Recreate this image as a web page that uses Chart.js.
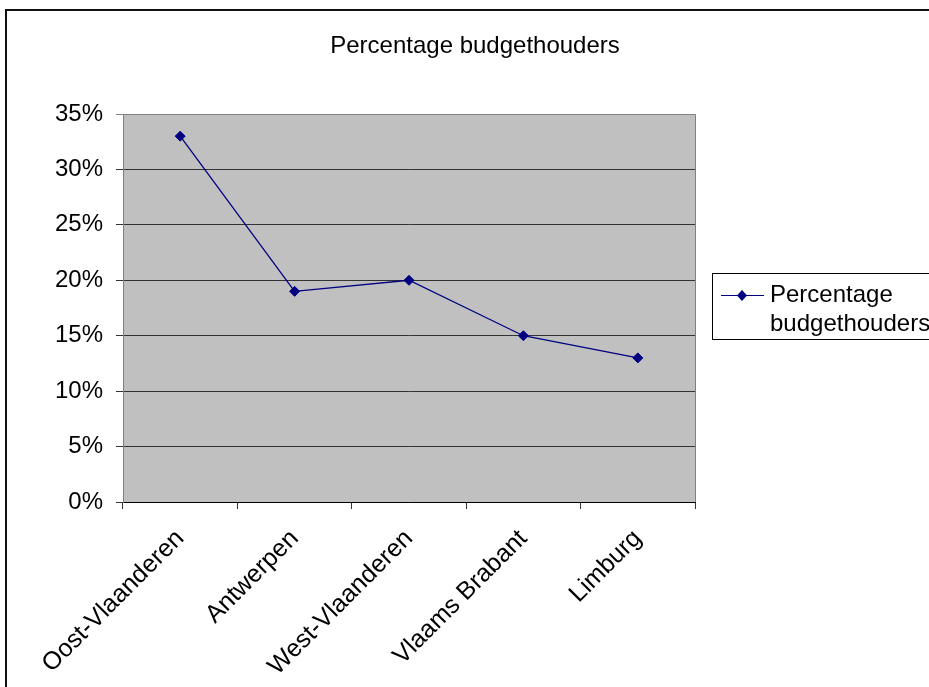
<!DOCTYPE html>
<html>
<head>
<meta charset="utf-8">
<script src="https://cdn.jsdelivr.net/npm/chart.js@4.4.0/dist/chart.umd.min.js"></script>
<style>
  body { margin: 0; overflow: hidden; background: #fff; }
  #wrap { position: relative; width: 929px; height: 687px; }
  #frame { position: absolute; left: 5px; top: 9px; width: 1000px; height: 1000px;
           border-left: 2px solid #111; border-top: 2px solid #111; }
</style>
</head>
<body>
<div id="wrap">
  <canvas id="lineChart"></canvas>
  <div id="frame"></div>
</div>
<script>
const chartTitle = 'Percentage budgethouders';
const seriesLabel = 'Percentage budgethouders';
const provinces = ['Oost-Vlaanderen', 'Antwerpen', 'West-Vlaanderen', 'Vlaams Brabant', 'Limburg'];
const percentages = [33, 19, 20, 15, 13];
const yTicks = [0, 5, 10, 15, 20, 25, 30, 35];

const font = '"Liberation Sans", Arial, sans-serif';
const navy = '#000080';

// grey plot area, title and the boxed legend on the right
const excelLook = {
  id: 'excelLook',
  beforeDraw(chart) {
    const { ctx, chartArea: a } = chart;
    ctx.save();
    ctx.fillStyle = '#c0c0c0';
    ctx.fillRect(a.left, a.top, a.right - a.left, a.bottom - a.top);
    ctx.restore();
  },
  afterDraw(chart) {
    const { ctx, chartArea: a } = chart;
    ctx.save();
    ctx.strokeStyle = '#808080';
    ctx.lineWidth = 1;
    ctx.beginPath();
    ctx.moveTo(a.left, a.top + 0.5);
    ctx.lineTo(Math.round(a.right) + 0.5, a.top + 0.5);
    ctx.lineTo(Math.round(a.right) + 0.5, a.bottom);
    ctx.stroke();

    ctx.fillStyle = '#000';
    ctx.font = '24px ' + font;
    ctx.textAlign = 'center';
    ctx.textBaseline = 'alphabetic';
    ctx.fillText(chartTitle, 475, 53);

    // legend
    ctx.strokeStyle = '#000';
    ctx.strokeRect(712.5, 273.5, 240, 66);
    ctx.strokeStyle = navy;
    ctx.beginPath();
    ctx.moveTo(721, 295.5);
    ctx.lineTo(764, 295.5);
    ctx.stroke();
    ctx.fillStyle = navy;
    ctx.beginPath();
    ctx.moveTo(742, 290);
    ctx.lineTo(747, 295.5);
    ctx.lineTo(742, 301);
    ctx.lineTo(737, 295.5);
    ctx.closePath();
    ctx.fill();
    ctx.fillStyle = '#000';
    ctx.textAlign = 'left';
    const words = seriesLabel.split(' ');
    ctx.fillText(words[0], 770, 302);
    ctx.fillText(words[1], 770, 331);
    ctx.restore();
  }
};

const lineChart = document.getElementById('lineChart');
const myChart = new Chart(lineChart, {
  type: 'line',
  data: {
    labels: provinces,
    datasets: [
      {
        label: seriesLabel,
        data: percentages,
        borderColor: navy,
        backgroundColor: navy,
        borderWidth: 1.3,
        pointStyle: 'rectRot',
        pointRadius: 5,
        pointBorderWidth: 1,
        tension: 0,
      },
    ],
  },
  options: {
    responsive: true,
    maintainAspectRatio: false,
    animation: false,
    events: [],
    layout: { padding: { top: 114, right: 234, left: 0, bottom: 0 } },
    plugins: {
      legend: { display: false },
      title: { display: false },
      tooltip: { enabled: false },
    },
    scales: {
      x: {
        offset: true,
        grid: { offset: true, drawOnChartArea: false, color: '#333', tickLength: 7 },
        border: { color: '#000' },
        ticks: {
          autoSkip: false,
          minRotation: 45,
          maxRotation: 45,
          padding: 15,
          color: '#000',
          font: { family: font, size: 25 },
        },
        afterFit: (s) => { s.height = 185; },
      },
      y: {
        min: 0,
        max: 35,
        afterBuildTicks: (s) => { s.ticks = yTicks.map((v) => ({ value: v })); },
        grid: {
          color: (c) => (c.tick && c.tick.value === 35 ? '#808080' : '#333'),
          tickLength: 7,
        },
        border: { color: '#808080' },
        ticks: {
          padding: 13,
          color: '#000',
          font: { family: font, size: 24 },
          callback: (v) => v + '%',
        },
        afterFit: (s) => { s.width = 123; },
      },
    },
  },
  plugins: [excelLook],
});
</script>
</body>
</html>
